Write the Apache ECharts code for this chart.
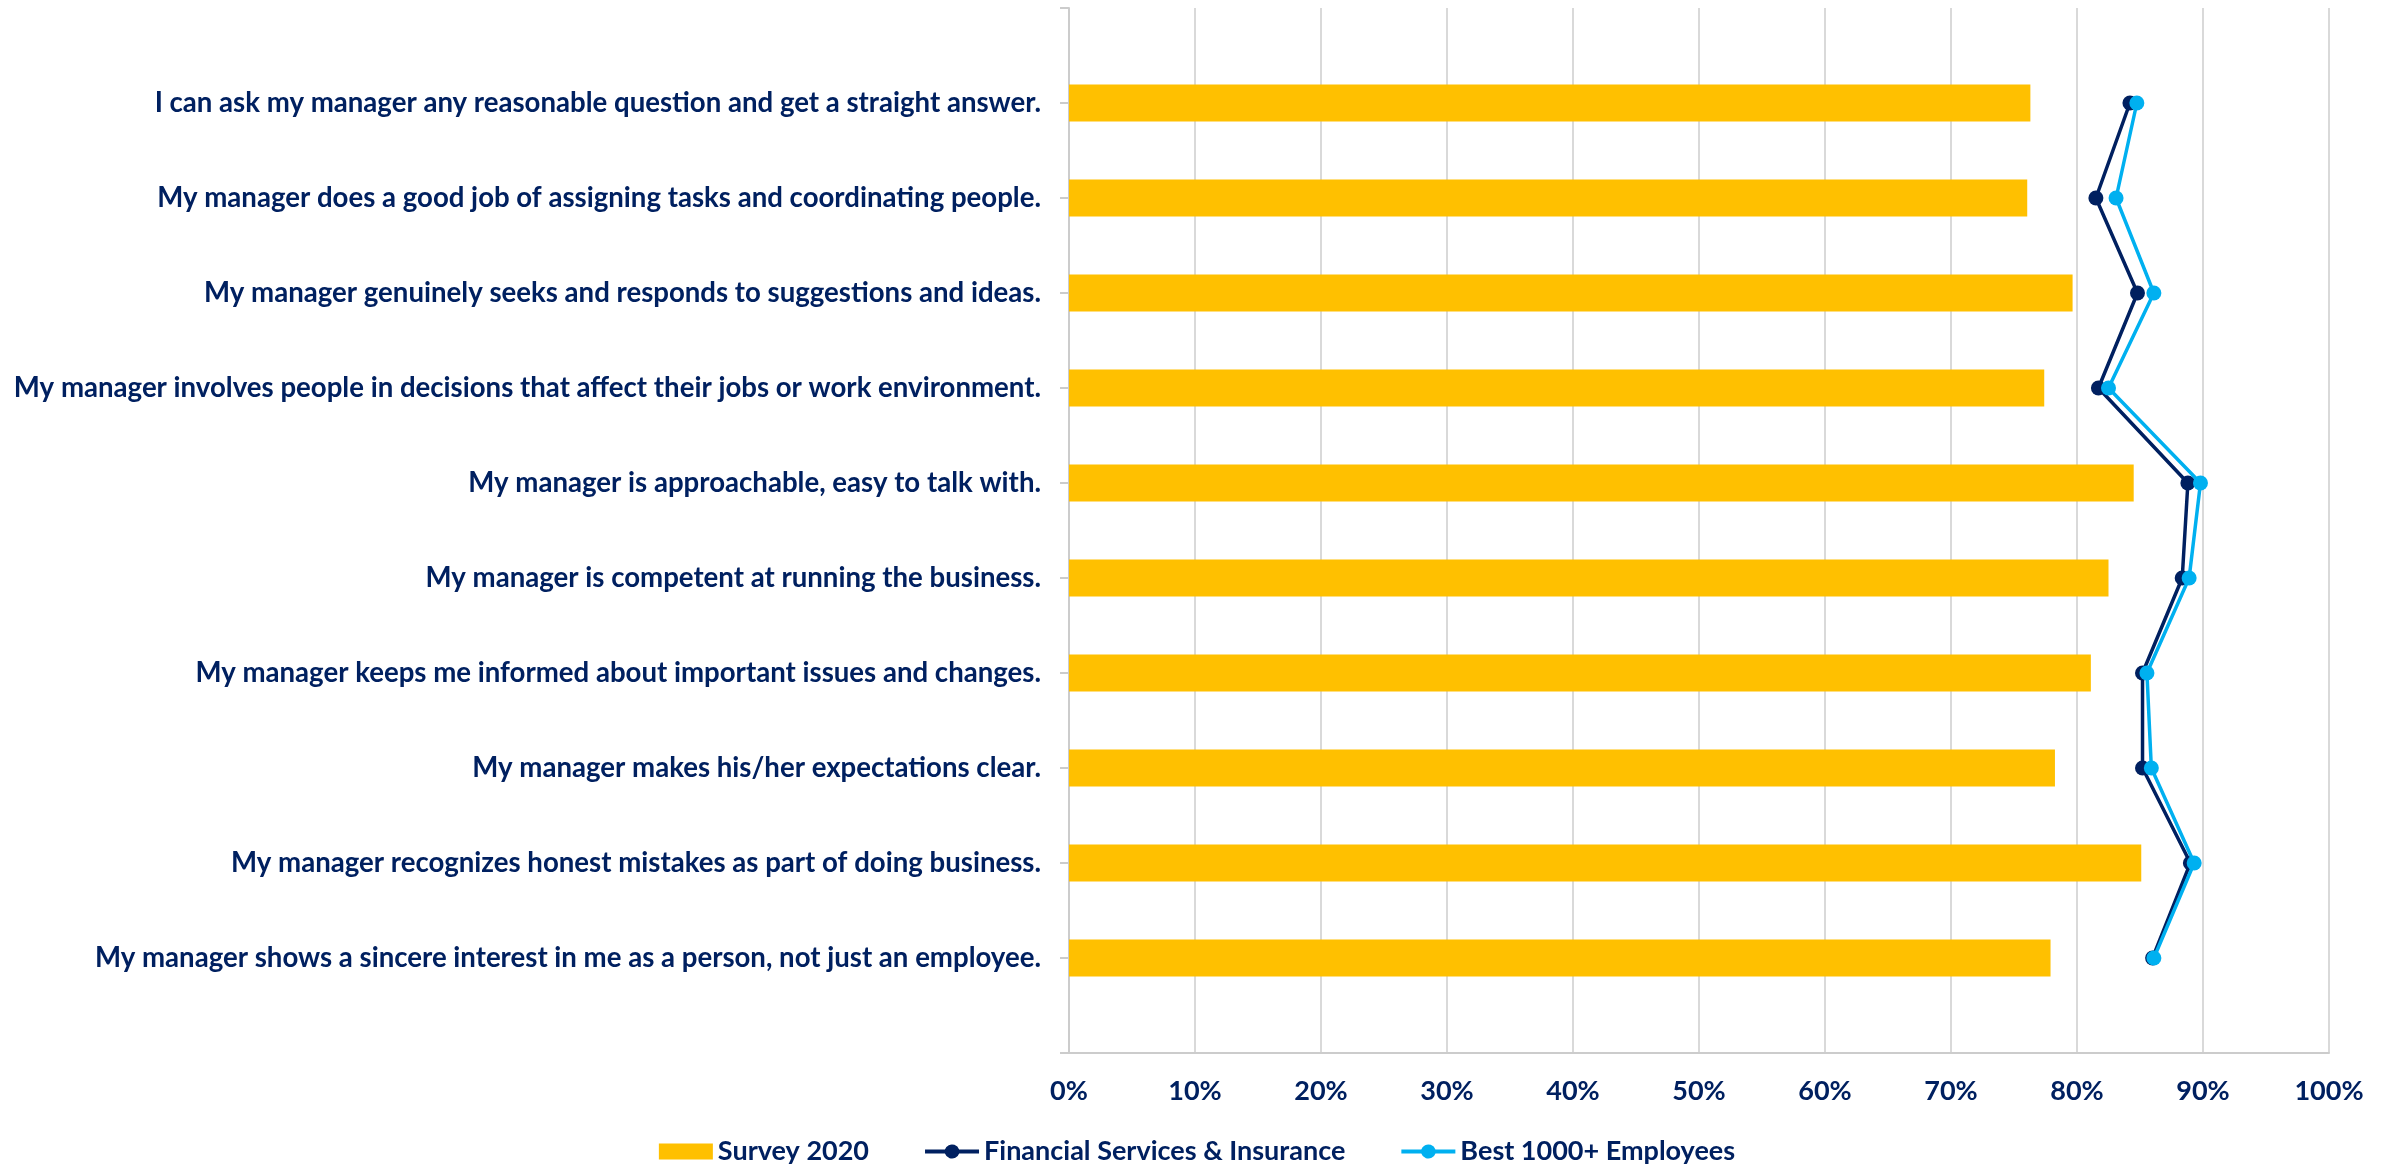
<!DOCTYPE html>
<html>
<head>
<meta charset="utf-8">
<script src="https://cdn.jsdelivr.net/npm/echarts@6/dist/echarts.min.js"></script>
<style>
  html, body { margin: 0; padding: 0; background: #ffffff; }
  #chart { width: 2394px; height: 1164px; }
</style>
</head>
<body>
<div id="chart"></div>
<script>
// Survey statements, listed top to bottom
const categories = [
  'I can ask my manager any reasonable question and get a straight answer.',
  'My manager does a good job of assigning tasks and coordinating people.',
  'My manager genuinely seeks and responds to suggestions and ideas.',
  'My manager involves people in decisions that affect their jobs or work environment.',
  'My manager is approachable, easy to talk with.',
  'My manager is competent at running the business.',
  'My manager keeps me informed about important issues and changes.',
  'My manager makes his/her expectations clear.',
  'My manager recognizes honest mistakes as part of doing business.',
  'My manager shows a sincere interest in me as a person, not just an employee.'
];

// Percent favourable per statement
const survey2020 = [76.3, 76.05, 79.65, 77.4, 84.5, 82.5, 81.1, 78.25, 85.1, 77.9];
const financialServices = [84.2, 81.5, 84.8, 81.7, 88.8, 88.35, 85.2, 85.2, 89.0, 86.0];
const best1000 = [84.75, 83.1, 86.1, 82.5, 89.8, 88.9, 85.55, 85.9, 89.3, 86.1];

const seriesNames = ['Survey 2020', 'Financial Services & Insurance', 'Best 1000+ Employees'];
const xTicks = [0, 10, 20, 30, 40, 50, 60, 70, 80, 90, 100];

const NAVY = '#002060';
const GOLD = '#FFC000';
const SKY = '#00B0F0';
const FONT = 'Lato, "Open Sans", sans-serif';

// Legend glyph for the line series: a thick stroke with a dot in the middle
const LINE_DOT_ICON = 'path://M0,6L19.9,6A7.5,7.5 0 0 1 34.1,6L54,6L54,10L34.1,10A7.5,7.5 0 0 1 19.9,10L0,10Z';

// The category axis carries an empty slot above and below the statements
const axisCats = [''].concat(categories, ['']);
const pad = arr => [null].concat(arr, [null]);

const chart = echarts.init(document.getElementById('chart'), null, { renderer: 'canvas' });

chart.setOption({
  animation: false,
  backgroundColor: '#ffffff',
  textStyle: { fontFamily: FONT },
  grid: { left: 1069, right: 65, top: 8, bottom: 111, outerBoundsMode: 'none', containLabel: false },
  legend: {
    left: 'center',
    top: 1133,
    itemWidth: 54,
    itemHeight: 16,
    itemGap: 56,
    textStyle: { fontSize: 27, fontWeight: 'bold', color: NAVY, fontFamily: FONT },
    data: [
      { name: seriesNames[0], icon: 'rect' },
      { name: seriesNames[1], icon: LINE_DOT_ICON },
      { name: seriesNames[2], icon: LINE_DOT_ICON }
    ]
  },
  xAxis: {
    type: 'value',
    min: xTicks[0],
    max: xTicks[xTicks.length - 1],
    interval: 10,
    axisLine: { show: true, lineStyle: { color: '#CCCCCC', width: 2 } },
    axisTick: { show: false },
    splitLine: { show: true, lineStyle: { color: '#D9D9D9', width: 2 } },
    axisLabel: {
      formatter: '{value}%',
      fontSize: 27,
      fontWeight: 'bold',
      color: NAVY,
      fontFamily: FONT,
      margin: 25
    }
  },
  yAxis: {
    type: 'category',
    inverse: true,
    boundaryGap: false,
    data: axisCats,
    axisLine: { show: true, lineStyle: { color: '#CCCCCC', width: 2 } },
    axisTick: { show: true, length: 9, lineStyle: { color: '#CCCCCC', width: 2 } },
    splitLine: { show: false },
    axisLabel: {
      fontSize: 27.6,
      fontWeight: 'bold',
      color: NAVY,
      fontFamily: FONT,
      margin: 28
    }
  },
  series: [
    {
      name: seriesNames[0],
      type: 'bar',
      data: pad(survey2020),
      barWidth: 37,
      itemStyle: { color: GOLD },
      z: 2
    },
    {
      name: seriesNames[1],
      type: 'line',
      data: pad(financialServices),
      symbol: 'circle',
      symbolSize: 15,
      lineStyle: { color: NAVY, width: 3.5 },
      itemStyle: { color: NAVY },
      z: 3
    },
    {
      name: seriesNames[2],
      type: 'line',
      data: pad(best1000),
      symbol: 'circle',
      symbolSize: 15,
      lineStyle: { color: SKY, width: 3.5 },
      itemStyle: { color: SKY },
      z: 4
    }
  ]
});
</script>
</body>
</html>
